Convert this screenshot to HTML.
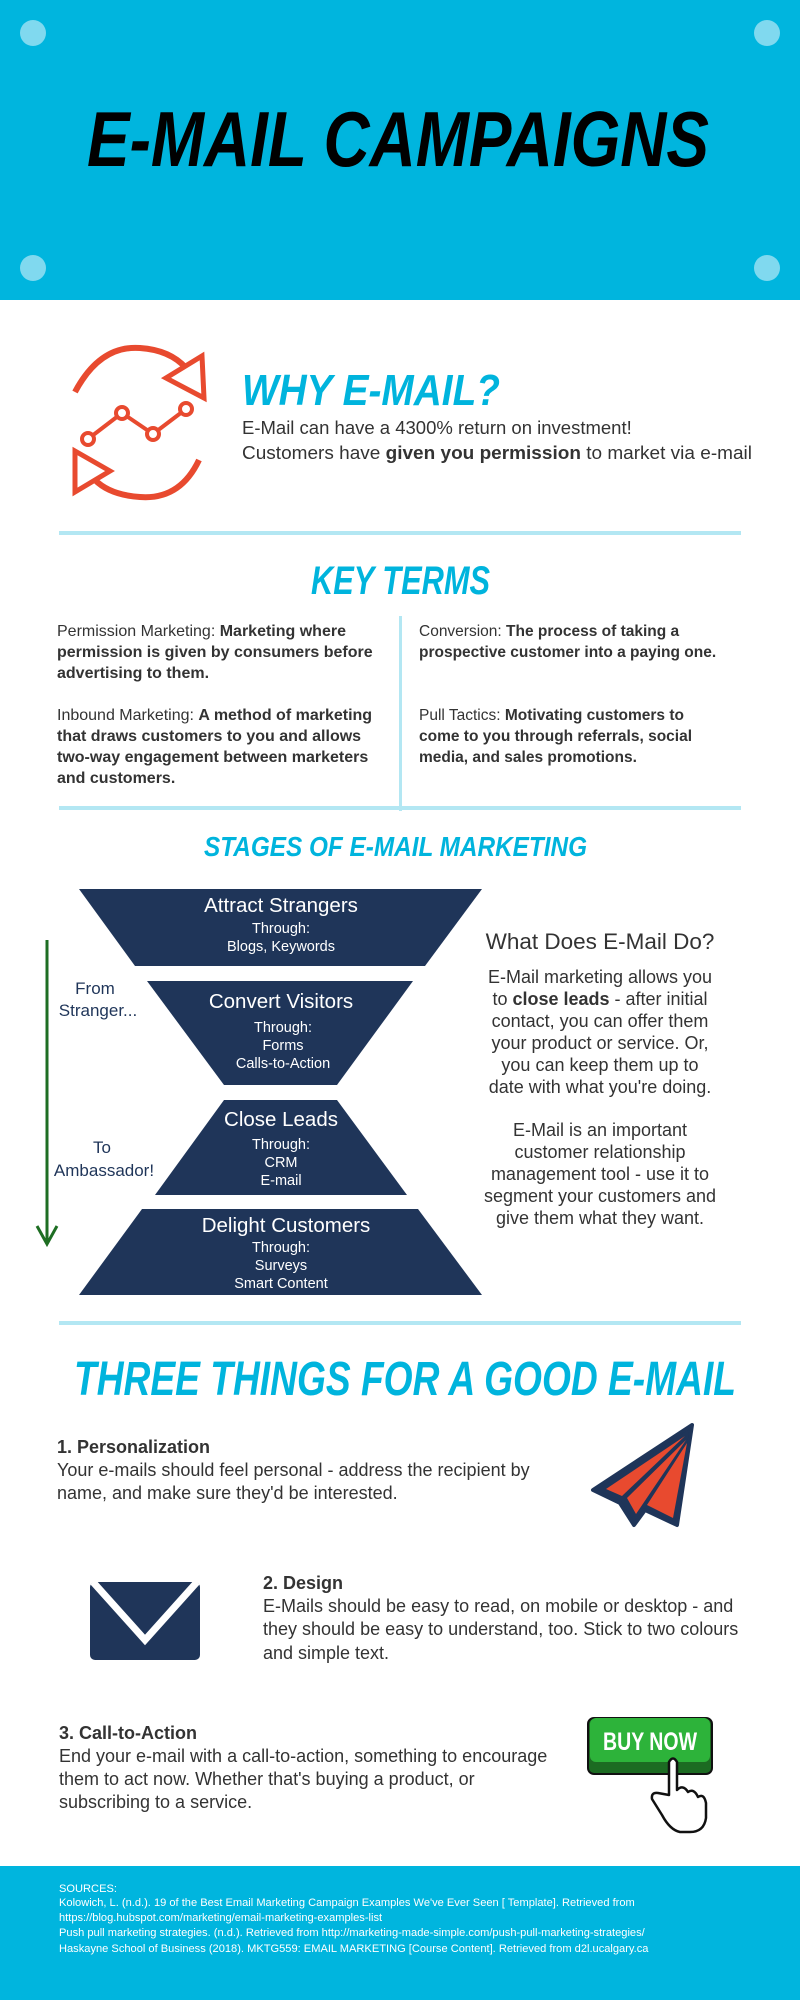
<!DOCTYPE html>
<html><head><meta charset="utf-8"><style>
html,body{margin:0;padding:0;background:#fff}
svg{display:block}
text{font-family:"Liberation Sans",sans-serif}
.b{fill:#333;font-size:16px}
.r{fill:#333;font-size:15.5px}
.bb{font-weight:bold}
.p{fill:#333;font-size:18px}
.d{font-family:"Liberation Sans",sans-serif;font-weight:bold;font-style:italic;fill:#00b4dd}
</style></head><body>
<svg width="800" height="2000" viewBox="0 0 800 2000" xmlns="http://www.w3.org/2000/svg">
<rect x="0" y="0" width="800" height="300" fill="#00b5de"/>
<circle cx="33" cy="33" r="13" fill="#80d9ef"/><circle cx="767" cy="33" r="13" fill="#80d9ef"/>
<circle cx="33" cy="268" r="13" fill="#80d9ef"/><circle cx="767" cy="268" r="13" fill="#80d9ef"/>
<text x="87" y="166" font-size="78" font-weight="bold" font-style="italic" fill="#000" textLength="622" lengthAdjust="spacingAndGlyphs">E-MAIL CAMPAIGNS</text>

<g fill="none" stroke="#e84a2f" stroke-width="6">
<path d="M75 392 Q100 345 140 348 Q170 350 186 368"/>
<polygon points="202,356 204,398 166,378" stroke-width="5"/>
<path d="M199 460 Q180 500 140 497 Q110 495 95 480"/>
<polygon points="75,451 75,492 110,471" stroke-width="5"/>
<polyline points="88,439 122,413 153,434 186,409" stroke-width="4"/>
</g>
<g fill="#fff" stroke="#e84a2f" stroke-width="4">
<circle cx="88" cy="439" r="6"/><circle cx="122" cy="413" r="6"/><circle cx="153" cy="434" r="6"/><circle cx="186" cy="409" r="6"/>
</g>
<text class="d" x="242" y="405" font-size="44" textLength="258" lengthAdjust="spacingAndGlyphs">WHY E-MAIL?</text>
<text x="242" y="434" font-size="18.5" fill="#333">E-Mail can have a 4300% return on investment!</text>
<text x="242" y="459" font-size="18.5" fill="#333" textLength="510" lengthAdjust="spacingAndGlyphs">Customers have <tspan font-weight="bold">given you permission</tspan> to market via e-mail</text>

<rect x="59" y="531" width="682" height="4" fill="#b3e7f3"/>
<text class="d" x="311" y="594" font-size="40" textLength="179" lengthAdjust="spacingAndGlyphs">KEY TERMS</text>
<rect x="399" y="616" width="3" height="195" fill="#b3e7f3"/>

<text class="b" x="57" y="636">Permission Marketing: <tspan class="bb">Marketing where</tspan></text>
<text class="b bb" x="57" y="657">permission is given by consumers before</text>
<text class="b bb" x="57" y="678">advertising to them.</text>
<text class="b" x="57" y="720">Inbound Marketing: <tspan class="bb">A method of marketing</tspan></text>
<text class="b bb" x="57" y="741">that draws customers to you and allows</text>
<text class="b bb" x="57" y="762">two-way engagement between marketers</text>
<text class="b bb" x="57" y="783">and customers.</text>
<text class="r" x="419" y="636">Conversion: <tspan class="bb">The process of taking a</tspan></text>
<text class="r bb" x="419" y="657">prospective customer into a paying one.</text>
<text class="r" x="419" y="720">Pull Tactics: <tspan class="bb">Motivating customers to</tspan></text>
<text class="r bb" x="419" y="741">come to you through referrals, social</text>
<text class="r bb" x="419" y="762">media, and sales promotions.</text>
<rect x="59" y="806" width="682" height="4" fill="#b3e7f3"/>

<text class="d" x="204" y="856" font-size="28" textLength="383" lengthAdjust="spacingAndGlyphs">STAGES OF E-MAIL MARKETING</text>

<g fill="#1f3559">
<polygon points="79,889 482,889 425,966 135,966"/>
<polygon points="147,981 413,981 337,1085 224,1085"/>
<polygon points="224,1100 337,1100 407,1195 155,1195"/>
<polygon points="142,1209 418,1209 482,1295 79,1295"/>
</g>
<g fill="#fff" text-anchor="middle">
<text x="281" y="912" font-size="20.5">Attract Strangers</text>
<text x="281" y="933" font-size="14.5">Through:</text>
<text x="281" y="951" font-size="14.5">Blogs, Keywords</text>
<text x="281" y="1008" font-size="20.5">Convert Visitors</text>
<text x="283" y="1032" font-size="14.5">Through:</text>
<text x="283" y="1050" font-size="14.5">Forms</text>
<text x="283" y="1068" font-size="14.5">Calls-to-Action</text>
<text x="281" y="1126" font-size="20.5">Close Leads</text>
<text x="281" y="1149" font-size="14.5">Through:</text>
<text x="281" y="1167" font-size="14.5">CRM</text>
<text x="281" y="1185" font-size="14.5">E-mail</text>
<text x="286" y="1232" font-size="20.5">Delight Customers</text>
<text x="281" y="1252" font-size="14.5">Through:</text>
<text x="281" y="1270" font-size="14.5">Surveys</text>
<text x="281" y="1288" font-size="14.5">Smart Content</text>
</g>

<line x1="47" y1="940" x2="47" y2="1242" stroke="#1e6e23" stroke-width="3"/>
<polyline points="37,1226 47,1244 57,1226" fill="none" stroke="#1e6e23" stroke-width="3"/>
<g fill="#1f3559" font-size="17" text-anchor="middle">
<text x="95" y="994">From</text>
<text x="98" y="1016">Stranger...</text>
<text x="102" y="1153">To</text>
<text x="104" y="1176">Ambassador!</text>
</g>
<g fill="#333" text-anchor="middle">
<text x="600" y="949" font-size="22.5">What Does E-Mail Do?</text>
<g font-size="18">
<text x="600" y="983">E-Mail marketing allows you</text>
<text x="600" y="1005">to <tspan font-weight="bold">close leads</tspan> - after initial</text>
<text x="600" y="1027">contact, you can offer them</text>
<text x="600" y="1049">your product or service. Or,</text>
<text x="600" y="1071">you can keep them up to</text>
<text x="600" y="1093">date with what you're doing.</text>
<text x="600" y="1136">E-Mail is an important</text>
<text x="600" y="1158">customer relationship</text>
<text x="600" y="1180">management tool - use it to</text>
<text x="600" y="1202">segment your customers and</text>
<text x="600" y="1224">give them what they want.</text>
</g></g>
<rect x="59" y="1321" width="682" height="4" fill="#b3e7f3"/>

<text class="d" x="74" y="1395" font-size="48" textLength="662" lengthAdjust="spacingAndGlyphs">THREE THINGS FOR A GOOD E-MAIL</text>

<text x="57" y="1453" font-size="18" font-weight="bold" fill="#333">1. Personalization</text>
<text class="p" x="57" y="1476">Your e-mails should feel personal - address the recipient by</text>
<text class="p" x="57" y="1499">name, and make sure they'd be interested.</text>

<polygon points="692,1425 593,1490 620,1503 634,1525 645,1510 677,1525" fill="#1f3559" stroke="#1f3559" stroke-width="4" stroke-linejoin="round"/>
<polygon points="685,1436 606,1489 622,1496" fill="#e84a2f"/>
<polygon points="686,1440 627,1498 636,1514" fill="#e84a2f"/>
<polygon points="687,1443 647,1505 673,1518" fill="#e84a2f"/>

<rect x="90" y="1582" width="110" height="78" rx="5" fill="#1f3559"/>
<polyline points="93,1582 145,1640 197,1582" fill="none" stroke="#fff" stroke-width="7"/>

<text x="263" y="1589" font-size="18" font-weight="bold" fill="#333">2. Design</text>
<text class="p" x="263" y="1612">E-Mails should be easy to read, on mobile or desktop - and</text>
<text class="p" x="263" y="1635">they should be easy to understand, too. Stick to two colours</text>
<text class="p" x="263" y="1659">and simple text.</text>

<text x="59" y="1739" font-size="18" font-weight="bold" fill="#333">3. Call-to-Action</text>
<text class="p" x="59" y="1762">End your e-mail with a call-to-action, something to encourage</text>
<text class="p" x="59" y="1785">them to act now. Whether that's buying a product, or</text>
<text class="p" x="59" y="1808">subscribing to a service.</text>

<rect x="588" y="1718" width="124" height="56" rx="6" fill="#1c6b22" stroke="#111" stroke-width="2"/>
<rect x="590" y="1718" width="120" height="44" rx="6" fill="#2db33a"/>
<text x="650" y="1750" font-size="25" font-weight="bold" fill="#fff" text-anchor="middle" textLength="94" lengthAdjust="spacingAndGlyphs">BUY NOW</text>
<path d="M669 1795 L669 1762 Q673 1755 677 1762 L677 1790 Q683 1784 688 1792 Q694 1788 698 1797 Q704 1793 706 1803 L706 1818 Q704 1832 690 1832 L680 1832 Q670 1830 662 1815 L652 1799 Q651 1792 658 1793 Z" fill="#fff" stroke="#111" stroke-width="2.5" stroke-linejoin="round"/>

<rect x="0" y="1866" width="800" height="134" fill="#00b5de"/>
<g fill="#fff" font-size="11.1">
<text x="59" y="1892">SOURCES:</text>
<text x="59" y="1906">Kolowich, L. (n.d.). 19 of the Best Email Marketing Campaign Examples We've Ever Seen [ Template]. Retrieved from</text>
<text x="59" y="1921">https://blog.hubspot.com/marketing/email-marketing-examples-list</text>
<text x="59" y="1936">Push pull marketing strategies. (n.d.). Retrieved from http://marketing-made-simple.com/push-pull-marketing-strategies/</text>
<text x="59" y="1952">Haskayne School of Business (2018). MKTG559: EMAIL MARKETING [Course Content]. Retrieved from d2l.ucalgary.ca</text>
</g>
</svg>
</body></html>
